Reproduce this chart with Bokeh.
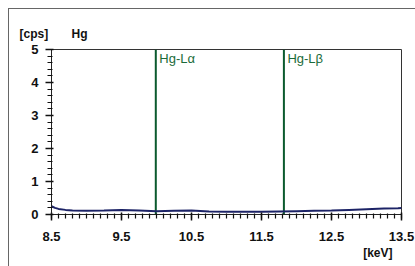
from bokeh.plotting import figure
from bokeh.models import FixedTicker, Label, Range1d, Title
from bokeh.embed import file_html
from bokeh.resources import INLINE

energy = [8.5, 8.55, 8.6, 8.7, 8.8, 9.0, 9.25, 9.5, 9.75, 10.0, 10.25, 10.5, 10.75,
          11.0, 11.25, 11.5, 11.75, 12.0, 12.25, 12.5, 12.75, 13.0, 13.25, 13.45, 13.5]
cps = [0.25, 0.2, 0.17, 0.14, 0.12, 0.11, 0.12, 0.14, 0.12, 0.1, 0.11, 0.12, 0.09,
       0.08, 0.08, 0.08, 0.09, 0.1, 0.11, 0.12, 0.14, 0.16, 0.18, 0.19, 0.2]
peak_energy = [9.99, 11.82]
peak_names = ["Hg-L\u03b1", "Hg-L\u03b2"]
x_ticks = [8.5, 9.5, 10.5, 11.5, 12.5, 13.5]
x_minor = [8.5 + 0.1 * i for i in range(51)]
y_ticks = [0, 1, 2, 3, 4, 5]
y_minor = [0.2 * i for i in range(26)]

FONT = "Liberation Sans"

p = figure(width=407, height=258, output_backend="svg", toolbar_location=None,
           x_range=Range1d(8.5, 13.5), y_range=Range1d(0, 5),
           min_border_left=42, min_border_right=15, min_border_top=40, min_border_bottom=53)
p.styles = {"margin-left": "8px", "margin-top": "8px",
            "border-top": "1px solid #666", "border-left": "1px solid #666"}
p.grid.visible = False
p.outline_line_color = "#333333"
p.outline_line_width = 1

p.title.text = "[cps]\u00a0\u00a0\u00a0\u00a0\u00a0\u00a0\u00a0Hg"
p.title.align = "left"
p.title.offset = -32
p.title.text_font = FONT
p.title.text_font_size = "12px"
p.title.text_font_style = "bold"
p.title.text_color = "#111111"
p.title.standoff = 18

p.add_layout(Title(text="[keV]", align="right", offset=9, text_font=FONT,
                   text_font_size="12px", text_font_style="bold",
                   text_color="#111111", standoff=0), "below")

for ax in (p.xaxis[0], p.yaxis[0]):
    ax.axis_line_color = "#222222"
    ax.major_tick_line_color = "#111111"
    ax.minor_tick_line_color = "#111111"
    ax.major_tick_line_width = 1.5
    ax.minor_tick_line_width = 1.2
    ax.major_tick_in = 2
    ax.major_tick_out = 6
    ax.minor_tick_in = 1
    ax.minor_tick_out = 4
    ax.major_label_text_font = FONT
    ax.major_label_text_font_style = "bold"
    ax.major_label_text_font_size = "13px"
    ax.major_label_text_color = "#111111"

p.xaxis.ticker = FixedTicker(ticks=x_ticks, minor_ticks=x_minor)
p.yaxis.ticker = FixedTicker(ticks=y_ticks, minor_ticks=y_minor)
p.xaxis.major_label_standoff = 11
p.yaxis.major_label_standoff = 7

for e in peak_energy:
    p.line([e, e], [0, 5], line_color="#0b5a2e", line_width=2)

p.line(energy, cps, line_color="#1c2366", line_width=2)

for e, name in zip(peak_energy, peak_names):
    p.add_layout(Label(x=e + 0.05, y=4.73, text=name, text_font=FONT,
                       text_font_size="13px", text_color="#1a6b3a",
                       text_baseline="middle"))

open("out.html", "w").write(file_html(p, INLINE))
